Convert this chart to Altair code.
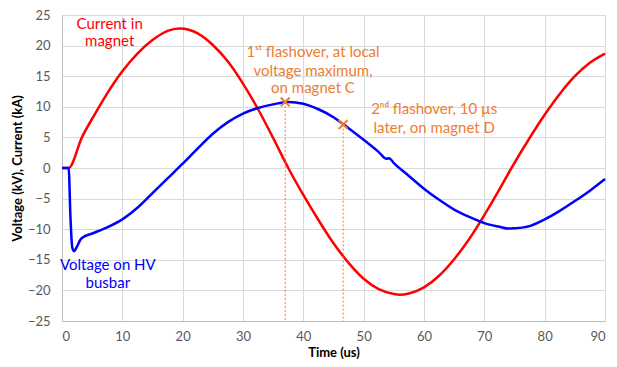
import altair as alt
import pandas as pd

# Current in magnet (kA)
cur_t = [0, 1.1, 3.3, 5.5, 7.5, 10, 12.5, 15, 17.5, 19.5, 22.5, 25, 27.5, 30, 32.5, 35, 37.5,
         40, 42.5, 45, 47.5, 50, 52.5, 55, 56, 57.5, 60, 62.5, 65, 67.5, 70, 72.5, 74.5,
         77.5, 80, 82.5, 85, 87.5, 90]
cur_v = [0, 0, 5.0, 8.9, 12.2, 15.8, 18.7, 20.9, 22.4, 22.8, 22.0, 20.1, 17.4, 13.8, 9.6, 4.9, 0,
         -4.4, -8.5, -12.3, -15.5, -18.1, -19.8, -20.6, -20.7, -20.5, -19.5, -17.6, -14.9, -11.6, -7.7, -3.5, 0,
         4.9, 8.7, 12.1, 15.0, 17.2, 18.7]

# Voltage on HV busbar (kV)
vol_t = [0, 1.1, 1.4, 1.7, 2.0, 2.4, 3.0, 3.5, 5, 7.5, 10, 12.5, 15, 17.5, 20, 22.5, 25, 27.5,
         30, 32.5, 35, 37.5, 40, 42.5, 45, 47.5, 50, 52.5, 53.8, 54.2, 55, 57.5, 60, 62.5, 65,
         67.5, 70, 72.5, 74, 75, 77.5, 80, 82.5, 85, 87.5, 90]
vol_v = [0, 0, -8, -13, -13.6, -13, -11.8, -11.3, -10.7, -9.7, -8.4, -6.5, -4.1, -1.7, 0.7, 3.2, 5.6, 7.5,
         8.9, 9.8, 10.4, 10.8, 10.5, 9.6, 8.3, 6.5, 4.6, 2.6, 1.5, 1.6, 0.8, -1.3, -3.4, -5.2, -6.8,
         -8.0, -9.0, -9.6, -9.9, -9.85, -9.5, -8.4, -7.0, -5.4, -3.7, -1.8]

# Flashover markers
flash_t = [37.0, 46.6]
flash_v = [10.8, 7.1]

# Annotations
ann_x = [7.9, 7.9, 7.6, 7.6, 41.6, 41.6, 41.6, 61.7, 61.7]
ann_y = [23.6, 20.7, -15.9, -18.8, 19.0, 15.9, 13.0, 9.6, 6.5]
ann_text = ["Current in", "magnet", "Voltage on HV", "busbar",
            "1ˢᵗ flashover, at local", "voltage maximum,", "on magnet C",
            "2ⁿᵈ flashover, 10 µs", "later, on magnet D"]
ann_color = ["#FF0000", "#FF0000", "#0000FF", "#0000FF",
             "#ED7D31", "#ED7D31", "#ED7D31", "#ED7D31", "#ED7D31"]

FONT = "Lato"

cur_df = pd.DataFrame({"t": cur_t, "v": cur_v})
vol_df = pd.DataFrame({"t": vol_t, "v": vol_v})
fl_df = pd.DataFrame({"t": flash_t, "v": flash_v, "b": [-25, -25]})
ann_df = pd.DataFrame({"x": ann_x, "y": ann_y, "text": ann_text, "color": ann_color})

xs = alt.Scale(domain=[0, 90], nice=False, zero=False)
ys = alt.Scale(domain=[-25, 25], nice=False)

xax = alt.Axis(values=list(range(0, 91, 10)), title="Time (us)", grid=True,
               gridColor="#D9D9D9", domainColor="#BFBFBF", ticks=False, labelOverlap=False,
               labelColor="#595959", labelFontSize=13, labelFont=FONT, labelPadding=9,
               titleFont=FONT, titleFontSize=13, titleFontWeight="bold", titleColor="#000000",
               titlePadding=3)
yax = alt.Axis(values=list(range(-25, 26, 5)), title="Voltage (kV), Current (kA)", grid=True,
               gridColor="#D9D9D9", domainColor="#BFBFBF", ticks=False, labelOverlap=False,
               labelColor="#595959", labelFontSize=13, labelFont=FONT, labelPadding=12,
               titleFont=FONT, titleFontSize=13, titleFontWeight="bold", titleColor="#000000",
               titlePadding=3)

X = lambda f: alt.X(f, scale=xs, axis=xax)
Y = lambda f: alt.Y(f, scale=ys, axis=yax)

cur_line = alt.Chart(cur_df).mark_line(color="#FF0000", strokeWidth=2.5, interpolate="monotone").encode(
    x=X("t:Q"), y=Y("v:Q"),
)
vol_line = alt.Chart(vol_df).mark_line(color="#0000FF", strokeWidth=2.5, interpolate="monotone").encode(
    x=X("t:Q"), y=Y("v:Q"),
)
rules = alt.Chart(fl_df).mark_rule(color="#ED7D31", strokeWidth=1, strokeDash=[2, 2]).encode(
    x=X("t:Q"), y=Y("v:Q"), y2="b:Q",
)
marks = alt.Chart(fl_df).mark_point(shape="M-1,-1L1,1M-1,1L1,-1", color="#ED7D31",
                                    strokeWidth=2, size=80, filled=False, opacity=1).encode(
    x=X("t:Q"), y=Y("v:Q"),
)
texts = alt.Chart(ann_df).mark_text(font=FONT, fontSize=15, align="center", baseline="middle").encode(
    x=X("x:Q"), y=Y("y:Q"),
    text="text:N",
    color=alt.Color("color:N", scale=None),
)

chart = alt.layer(cur_line, vol_line, rules, marks, texts).properties(
    width=543, height=306,
    padding={"left": 54, "top": 7, "right": 4, "bottom": 38},
    autosize=alt.AutoSizeParams(type="none"),
).configure_view(stroke=None).configure_axis(labelOverlap=False).configure(background="white")

chart.save("out.html", embed_options={"renderer": "svg", "actions": False})
